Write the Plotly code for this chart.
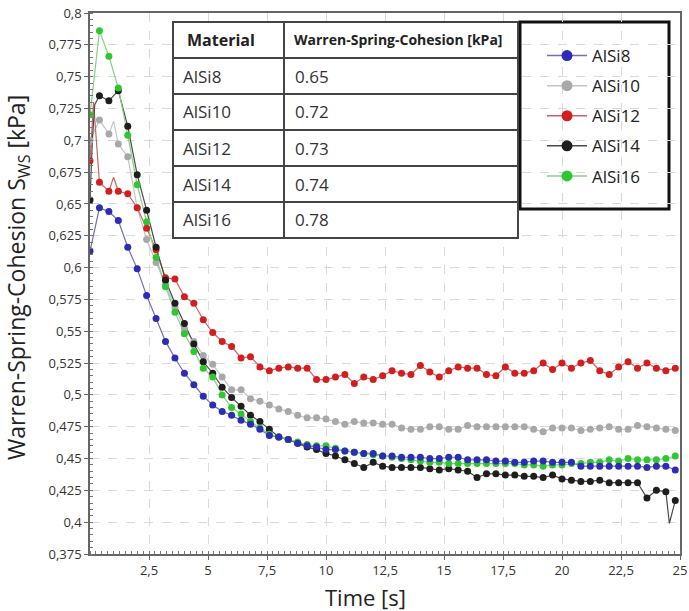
import plotly.graph_objects as go

# ---------------- data ----------------
time_s = [0.0, 0.4, 0.8, 1.2, 1.6, 2.0, 2.4, 2.8, 3.2, 3.6, 4.0, 4.4, 4.8, 5.2, 5.6, 6.0,
          6.4, 6.8, 7.2, 7.6, 8.0, 8.4, 8.8, 9.2, 9.6, 10.0, 10.4, 10.8, 11.2, 11.6, 12.0,
          12.4, 12.8, 13.2, 13.6, 14.0, 14.4, 14.8, 15.2, 15.6, 16.0, 16.4, 16.8, 17.2,
          17.6, 18.0, 18.4, 18.8, 19.2, 19.6, 20.0, 20.4, 20.8, 21.2, 21.6, 22.0, 22.4,
          22.8, 23.2, 23.6, 24.0, 24.4, 24.8]

alsi8 = [0.613, 0.647, 0.644, 0.637, 0.616, 0.599, 0.578, 0.560, 0.542, 0.529, 0.517,
         0.508, 0.499, 0.492, 0.487, 0.484, 0.480, 0.477, 0.473, 0.468, 0.467, 0.465,
         0.462, 0.460, 0.459, 0.457, 0.457, 0.456, 0.455, 0.454, 0.454, 0.452, 0.452,
         0.451, 0.451, 0.451, 0.450, 0.450, 0.451, 0.451, 0.449, 0.449, 0.449, 0.448,
         0.448, 0.447, 0.447, 0.448, 0.448, 0.447, 0.447, 0.447, 0.444, 0.444, 0.444,
         0.444, 0.444, 0.444, 0.444, 0.443, 0.444, 0.444, 0.441]

alsi10 = [0.700, 0.716, 0.705, 0.697, 0.687, 0.647, 0.622, 0.604, 0.587, 0.569, 0.552,
          0.542, 0.531, 0.524, 0.514, 0.504, 0.504, 0.497, 0.495, 0.492, 0.489, 0.487,
          0.484, 0.482, 0.482, 0.481, 0.479, 0.477, 0.479, 0.478, 0.478, 0.477, 0.477,
          0.474, 0.473, 0.473, 0.475, 0.475, 0.473, 0.473, 0.476, 0.475, 0.475, 0.475,
          0.475, 0.475, 0.475, 0.473, 0.471, 0.474, 0.474, 0.474, 0.472, 0.473, 0.474,
          0.475, 0.473, 0.473, 0.476, 0.475, 0.474, 0.473, 0.472]

alsi12 = [0.684, 0.667, 0.660, 0.660, 0.658, 0.647, 0.631, 0.614, 0.592, 0.591, 0.577,
          0.572, 0.559, 0.549, 0.542, 0.538, 0.529, 0.530, 0.522, 0.519, 0.521, 0.522,
          0.521, 0.521, 0.512, 0.512, 0.514, 0.516, 0.509, 0.514, 0.512, 0.515, 0.519,
          0.517, 0.516, 0.523, 0.518, 0.514, 0.519, 0.522, 0.521, 0.521, 0.516, 0.515,
          0.522, 0.517, 0.517, 0.519, 0.525, 0.520, 0.525, 0.521, 0.525, 0.527, 0.519,
          0.516, 0.522, 0.526, 0.521, 0.525, 0.521, 0.519, 0.521]

alsi14 = [0.653, 0.735, 0.731, 0.739, 0.711, 0.673, 0.645, 0.616, 0.590, 0.572, 0.556,
          0.540, 0.526, 0.517, 0.506, 0.498, 0.491, 0.484, 0.479, 0.473, 0.467, 0.465,
          0.462, 0.459, 0.457, 0.454, 0.452, 0.449, 0.446, 0.443, 0.447, 0.444, 0.443,
          0.443, 0.443, 0.443, 0.442, 0.441, 0.442, 0.441, 0.440, 0.435, 0.438, 0.438,
          0.437, 0.437, 0.436, 0.436, 0.435, 0.437, 0.434, 0.433, 0.432, 0.432, 0.433,
          0.431, 0.431, 0.431, 0.431, 0.419, 0.425, 0.424, 0.417]

alsi16 = [0.720, 0.786, 0.766, 0.741, 0.704, 0.665, 0.636, 0.608, 0.585, 0.565, 0.548,
          0.534, 0.521, 0.514, 0.500, 0.490, 0.485, 0.479, 0.474, 0.469, 0.467, 0.465,
          0.463, 0.461, 0.460, 0.460, 0.458, 0.456, 0.455, 0.454, 0.453, 0.452, 0.451,
          0.450, 0.449, 0.448, 0.447, 0.447, 0.446, 0.446, 0.446, 0.446, 0.446, 0.446,
          0.446, 0.446, 0.445, 0.445, 0.444, 0.445, 0.445, 0.446, 0.446, 0.447, 0.447,
          0.449, 0.448, 0.450, 0.449, 0.449, 0.449, 0.450, 0.452]

# extra (unmarked) points of the measured line between markers
alsi10_line_t = [1.0]
alsi10_line_v = [0.715]
alsi12_line_t = [0.15, 1.0]
alsi12_line_v = [0.730, 0.671]
alsi14_line_t = [0.1, 0.2, 24.55]
alsi14_line_v = [0.700, 0.728, 0.399]

series_names = ["AlSi8", "AlSi10", "AlSi12", "AlSi14", "AlSi16"]

table_materials = ["AlSi8", "AlSi10", "AlSi12", "AlSi14", "AlSi16"]
table_cohesion = ["0.65", "0.72", "0.73", "0.74", "0.78"]
table_headers = ["Material", "Warren-Spring-Cohesion [kPa]"]

y_tickvals = [0.375, 0.4, 0.425, 0.45, 0.475, 0.5, 0.525, 0.55, 0.575, 0.6, 0.625,
              0.65, 0.675, 0.7, 0.725, 0.75, 0.775, 0.8]
y_ticktext = ["0,375", "0,4", "0,425", "0,45", "0,475", "0,5", "0,525", "0,55", "0,575",
              "0,6", "0,625", "0,65", "0,675", "0,7", "0,725", "0,75", "0,775", "0,8"]
x_tickvals = [2.5, 5, 7.5, 10, 12.5, 15, 17.5, 20, 22.5, 25]
x_ticktext = ["2,5", "5", "7,5", "10", "12,5", "15", "17,5", "20", "22,5", "25"]
x_title = "Time [s]"
y_title = "Warren-Spring-Cohesion S<sub>WS</sub> [kPa]"

# ---------------- styles ----------------
marker_colors = ["#2c2cb4", "#a8a8a8", "#d41e1e", "#1e1e1e", "#2ec82e"]
line_colors = ["#6f6fb6", "#c4c4c4", "#c86464", "#4a4a4a", "#86d086"]
marker_draw_order = [1, 2, 3, 4, 0]

W, H = 689, 611
L, R, T, B = 90, 680, 13, 554


def px(xp):
    return (xp - L) / (R - L)


def py(yp):
    return (B - yp) / (B - T)


values = [alsi8, alsi10, alsi12, alsi14, alsi16]
extras = [([], []), (alsi10_line_t, alsi10_line_v), (alsi12_line_t, alsi12_line_v),
          (alsi14_line_t, alsi14_line_v), ([], [])]

fig = go.Figure()
for name, vals, (et, ev), lc in zip(series_names, values, extras, line_colors):
    pts = sorted(list(zip(time_s, vals)) + list(zip(et, ev)))
    fig.add_trace(go.Scatter(x=[p[0] for p in pts], y=[p[1] for p in pts], mode="lines",
                             line=dict(color=lc, width=1.2), showlegend=False,
                             hoverinfo="skip"))
for i in marker_draw_order:
    fig.add_trace(go.Scatter(x=time_s, y=values[i], mode="markers", name=series_names[i],
                             marker=dict(color=marker_colors[i], size=7), showlegend=False))
for name, mc, lc in zip(series_names, marker_colors, line_colors):
    fig.add_trace(go.Scatter(x=[None], y=[None], mode="lines+markers", name=name,
                             legendgroup=name,
                             marker=dict(color=mc, size=11),
                             line=dict(color=lc, width=1.5)))

grid = dict(showgrid=True, gridcolor="#d9d9d9", griddash="dash", gridwidth=1)
fig.update_xaxes(range=[0, 25], tickvals=x_tickvals, ticktext=x_ticktext, automargin=False,
                 showline=True, linecolor="#666", linewidth=1.5, mirror=True,
                 ticks="outside", ticklen=4, tickcolor="#666",
                 minor=dict(dtick=0.25, ticks="inside", ticklen=3, tickcolor="#777", showgrid=False),
                 tickfont=dict(family="Open Sans", size=13, color="#333"),
                 zeroline=False, **grid)
fig.update_yaxes(range=[0.375, 0.8], tickvals=y_tickvals, ticktext=y_ticktext, automargin=False,
                 showline=True, linecolor="#666", linewidth=1.5, mirror=True,
                 ticks="outside", ticklen=4, tickcolor="#666",
                 minor=dict(dtick=0.005, ticks="inside", ticklen=3, tickcolor="#777", showgrid=False),
                 tickfont=dict(family="Open Sans", size=13, color="#333"),
                 zeroline=False, **grid)

shapes = []
annotations = []
# axis titles
annotations.append(dict(text=x_title, xref="paper", yref="paper", x=px(365), y=py(597),
                        xanchor="center", yanchor="middle", showarrow=False,
                        font=dict(family="Open Sans", size=22, color="#222")))
annotations.append(dict(text=y_title, xref="paper", yref="paper", x=px(17), y=py(278),
                        xanchor="center", yanchor="middle", showarrow=False, textangle=-90,
                        font=dict(family="Open Sans", size=23, color="#222")))
# table
tx0, tx1, tcol = 173, 518, 284
trows = [22, 58, 94, 130, 166, 202, 238]
shapes.append(dict(type="rect", xref="paper", yref="paper", x0=px(tx0), x1=px(tx1),
                   y0=py(trows[-1]), y1=py(trows[0]), line=dict(color="#444", width=2),
                   fillcolor="white", layer="above"))
shapes.append(dict(type="line", xref="paper", yref="paper", x0=px(tcol), x1=px(tcol),
                   y0=py(trows[-1]), y1=py(trows[0]), line=dict(color="#444", width=2)))
for r in trows[1:-1]:
    shapes.append(dict(type="line", xref="paper", yref="paper", x0=px(tx0), x1=px(tx1),
                       y0=py(r), y1=py(r), line=dict(color="#444", width=2)))
annotations.append(dict(text="<b>" + table_headers[0] + "</b>", xref="paper", yref="paper",
                        x=px(185), y=py(40), xanchor="left", yanchor="middle", showarrow=False,
                        font=dict(family="Open Sans", size=16, color="#222")))
annotations.append(dict(text="<b>" + table_headers[1] + "</b>", xref="paper", yref="paper",
                        x=px(292), y=py(40), xanchor="left", yanchor="middle", showarrow=False,
                        font=dict(family="Open Sans", size=14, color="#222")))
for i, (m, c) in enumerate(zip(table_materials, table_cohesion)):
    yc = (trows[i + 1] + trows[i + 2]) / 2
    annotations.append(dict(text=m, xref="paper", yref="paper", x=px(181), y=py(yc),
                            xanchor="left", yanchor="middle", showarrow=False,
                            font=dict(family="Open Sans", size=17, color="#333")))
    annotations.append(dict(text=c, xref="paper", yref="paper", x=px(293), y=py(yc),
                            xanchor="left", yanchor="middle", showarrow=False,
                            font=dict(family="Open Sans", size=17, color="#333")))
# legend box
shapes.append(dict(type="rect", xref="paper", yref="paper", x0=px(520), x1=px(669),
                   y0=py(209), y1=py(22), line=dict(color="#111", width=3),
                   fillcolor="white", layer="below"))

fig.update_layout(
    width=W, height=H,
    margin=dict(l=L, r=W - R, t=T, b=H - B),
    plot_bgcolor="white", paper_bgcolor="white",
    shapes=shapes, annotations=annotations,
    legend=dict(x=px(542), y=py(38), xanchor="left", yanchor="top",
                bgcolor="rgba(0,0,0,0)", borderwidth=0,
                font=dict(family="Open Sans", size=17, color="#222"),
                traceorder="grouped", tracegroupgap=5, itemwidth=40),
    font=dict(family="Open Sans"),
)

fig.write_html("out.html", config={"displayModeBar": False},
               post_script="document.body.style.margin='0';")
